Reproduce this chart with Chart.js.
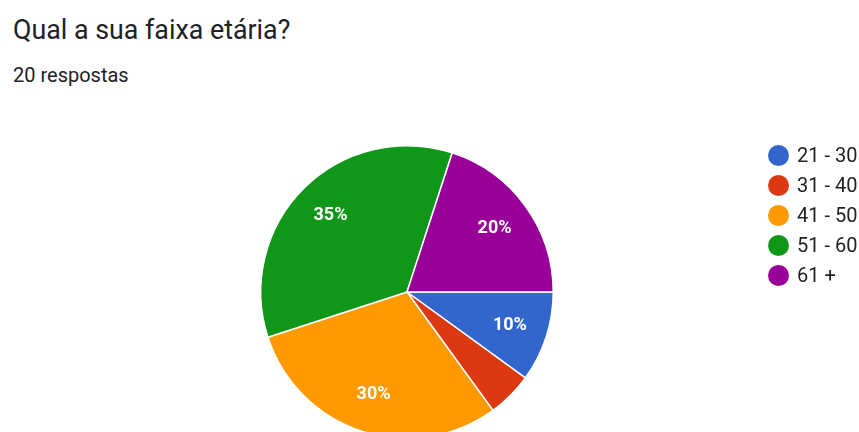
<!DOCTYPE html>
<html>
<head>
<meta charset="utf-8">
<script src="https://cdn.jsdelivr.net/npm/chart.js@4.4.0/dist/chart.umd.min.js"></script>
<style>
  html, body { margin: 0; padding: 0; background: #fff; overflow: hidden; }
  body { width: 859px; height: 432px; position: relative; font-family: Roboto, Arial, sans-serif; }
  .titulo { position: absolute; left: 13px; top: 14px; font-size: 26.8px; color: #202124; white-space: nowrap; }
  .sub { position: absolute; left: 13px; top: 63px; font-size: 20px; color: #202124; white-space: nowrap; }
  .wrap { position: absolute; left: 0; top: 0; width: 859px; height: 440px; }
  #legenda { position: absolute; left: 768px; top: 140px; list-style: none; margin: 0; padding: 0; }
  #legenda li { height: 30px; display: flex; align-items: center; font-size: 20px; color: #222; white-space: nowrap; }
  #legenda span.bola { width: 21px; height: 21px; border-radius: 50%; margin-right: 8px; display: inline-block; }
</style>
</head>
<body>
<div class="titulo">Qual a sua faixa etária?</div>
<div class="sub">20 respostas</div>
<div class="wrap"><canvas id="pizza"></canvas></div>
<ul id="legenda"></ul>
<script>
// dados
const faixas = ['21 - 30', '31 - 40', '41 - 50', '51 - 60', '61 +'];
const respostas = [2, 1, 6, 7, 4];
const cores = ['#3366cc', '#dc3912', '#ff9900', '#109618', '#990099'];

// rótulos de porcentagem dentro das fatias
const rotulos = {
    id: 'rotulos',
    afterDatasetsDraw(chart) {
        const ctx = chart.ctx;
        const total = respostas.reduce((a, b) => a + b, 0);
        ctx.save();
        ctx.font = 'bold 18px Roboto, Arial, sans-serif';
        ctx.fillStyle = '#fff';
        ctx.textAlign = 'center';
        ctx.textBaseline = 'middle';
        chart.getDatasetMeta(0).data.forEach((arc, i) => {
            const pct = respostas[i] / total * 100;
            if (pct < 8) return;
            const meio = (arc.startAngle + arc.endAngle) / 2;
            const d = arc.outerRadius * 0.74;
            ctx.fillText(Math.round(pct) + '%', arc.x + Math.cos(meio) * d, arc.y + Math.sin(meio) * d);
        });
        ctx.restore();
    }
};

new Chart(document.getElementById('pizza'), {
    type: 'pie',
    data: {
        labels: faixas,
        datasets: [{
            data: respostas,
            backgroundColor: cores,
            borderColor: '#fff',
            borderWidth: 1.5
        }]
    },
    options: {
        responsive: true,
        maintainAspectRatio: false,
        animation: false,
        rotation: 90,
        layout: { padding: { top: 145, bottom: 1, left: 260, right: 305 } },
        plugins: {
            legend: { display: false },
            tooltip: { enabled: false }
        }
    },
    plugins: [rotulos]
});

// legenda
const ul = document.getElementById('legenda');
faixas.forEach((f, i) => {
    const li = document.createElement('li');
    li.innerHTML = `<span class="bola" style="background:${cores[i]}"></span>${f}`;
    ul.appendChild(li);
});
</script>
</body>
</html>
